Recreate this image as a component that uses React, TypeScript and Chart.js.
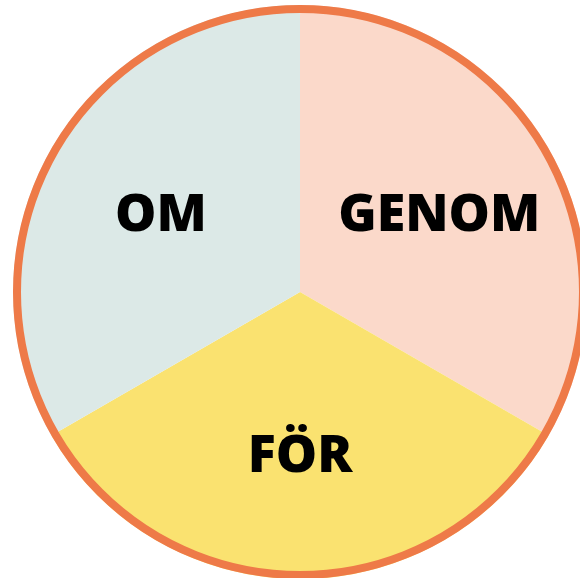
import React, { useEffect, useRef } from "react";
import { Chart, registerables } from "chart.js";

Chart.register(...registerables);

const categories = ["GENOM", "FÖR", "OM"];
const values = [1, 1, 1];
const sliceColors = ["#FBD9CA", "#FAE270", "#DCE9E7"];
const ringColor = "#EE7A48";

const ringPlugin = {
  id: "ringAndLabels",
  afterDatasetsDraw(chart: any) {
    const meta = chart.getDatasetMeta(0);
    if (!meta.data.length) return;
    const ctx = chart.ctx;
    const first = meta.data[0];
    const { x, y, outerRadius } = first.getProps(["x", "y", "outerRadius"], true);
    ctx.save();
    ctx.beginPath();
    ctx.arc(x, y, outerRadius - 4, 0, Math.PI * 2);
    ctx.lineWidth = 8;
    ctx.strokeStyle = ringColor;
    ctx.stroke();

    const fontSize = 52;
    ctx.font = `800 ${fontSize}px "Open Sans"`;
    ctx.fillStyle = "#000000";
    ctx.textAlign = "center";
    ctx.textBaseline = "alphabetic";
    meta.data.forEach((arc: any, i: number) => {
      const p = arc.getProps(["startAngle", "endAngle", "outerRadius", "x", "y"], true);
      const mid = (p.startAngle + p.endAngle) / 2;
      const r = p.outerRadius * 0.56;
      const lx = p.x + Math.cos(mid) * r;
      const ly = p.y + Math.sin(mid) * r;
      ctx.fillText(categories[i], lx, ly + fontSize * 0.37);
    });
    ctx.restore();
  },
};

export default function App() {
  const ref = useRef<HTMLCanvasElement | null>(null);
  useEffect(() => {
    if (!ref.current) return;
    const chart = new Chart(ref.current, {
      type: "pie",
      data: {
        labels: categories,
        datasets: [
          {
            data: values,
            backgroundColor: sliceColors,
            borderWidth: 0,
          },
        ],
      },
      options: {
        responsive: false,
        animation: false,
        layout: { padding: 5 },
        plugins: {
          legend: { display: false },
          tooltip: { enabled: false },
        },
      },
      plugins: [ringPlugin],
    });
    return () => chart.destroy();
  }, []);
  return (
    <div style={{ position: "fixed", left: 0, top: 0, width: 580, height: 578, overflow: "hidden", background: "#fff" }}>
      <canvas ref={ref} width={600} height={584} style={{ position: "absolute", left: 0, top: 0, width: 600, height: 584 }} />
    </div>
  );
}
